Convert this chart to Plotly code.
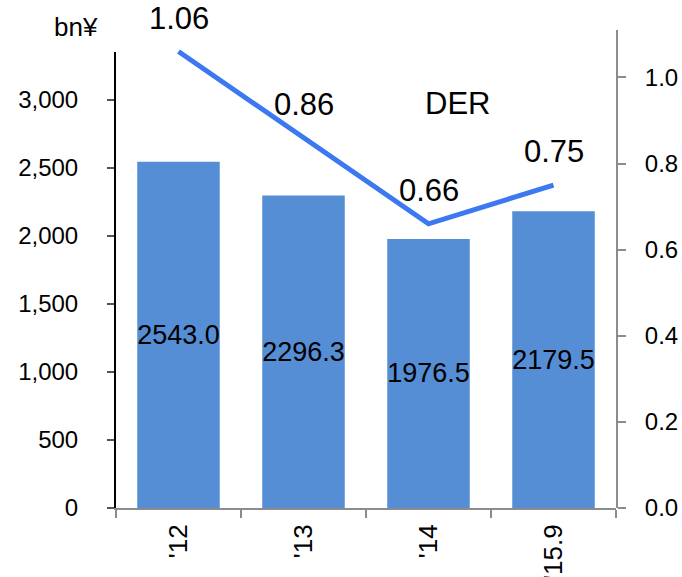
import plotly.graph_objects as go

# Interest-bearing debt (bn yen) and debt-to-equity ratio
periods = ["'12", "'13", "'14", "'15.9"]
debt_bn_yen = [2543.0, 2296.3, 1976.5, 2179.5]
der = [1.06, 0.86, 0.66, 0.75]

left_ticks = [0, 500, 1000, 1500, 2000, 2500, 3000]
left_tick_text = ["0", "500", "1,000", "1,500", "2,000", "2,500", "3,000"]
right_ticks = [0.0, 0.2, 0.4, 0.6, 0.8, 1.0]

FONT = "Liberation Sans, Arial, sans-serif"
BAR_COLOR = "#558ED5"
LINE_COLOR = "#3C78F0"
GRAY = "#8C8C8C"

fig = go.Figure()

fig.add_trace(go.Bar(
    x=periods, y=debt_bn_yen, yaxis="y",
    marker=dict(color=BAR_COLOR, line=dict(width=0)),
    width=0.66,
    text=[f"{v:.1f}" for v in debt_bn_yen],
    textposition="inside", insidetextanchor="middle",
    textangle=0, constraintext="none",
    textfont=dict(family=FONT, size=27, color="black"),
    cliponaxis=False, showlegend=False,
))

fig.add_trace(go.Scatter(
    x=periods, y=der, yaxis="y2",
    mode="lines",
    line=dict(color=LINE_COLOR, width=5),
    cliponaxis=False, showlegend=False,
))

# DER value labels sitting above each point of the line
der_labels = [
    dict(text=f"{v:.2f}", x=p, y=v, xref="x", yref="y2",
         xanchor="center", yanchor="bottom", yshift=14, showarrow=False,
         font=dict(size=31, family=FONT, color="black"))
    for p, v in zip(periods, der)
]

fig.update_layout(
    width=682, height=577,
    margin=dict(l=116, r=66, t=30, b=69),
    paper_bgcolor="white", plot_bgcolor="rgba(0,0,0,0)",
    font=dict(family=FONT, color="black"),
    bargap=0.34,
    xaxis=dict(
        type="category", anchor="y", automargin=False,
        showline=True, linecolor=GRAY, linewidth=2,
        ticks="outside", tickson="boundaries", ticklen=8,
        tickcolor=GRAY, tickwidth=2,
        tickangle=-90, tickfont=dict(size=26, family=FONT),
        ticklabelstandoff=4,
        showgrid=False, zeroline=False,
    ),
    yaxis=dict(
        domain=[0, 456 / 478], anchor="x", automargin=False,
        range=[0, 3350],
        tickvals=left_ticks, ticktext=left_tick_text,
        showline=True, linecolor="black", linewidth=2,
        ticks="outside", ticklen=7, tickcolor="#555555", tickwidth=2,
        tickfont=dict(size=24, family=FONT),
        ticklabelstandoff=24,
        showgrid=False, zeroline=False,
    ),
    yaxis2=dict(
        domain=[0, 1], anchor="x", side="right", automargin=False,
        range=[0, 1.11],
        tickvals=right_ticks, tickformat=".1f",
        showline=True, linecolor=GRAY, linewidth=2,
        ticks="outside", ticklen=8, tickcolor=GRAY, tickwidth=2,
        tickfont=dict(size=24, family=FONT),
        ticklabelstandoff=14,
        showgrid=False, zeroline=False,
    ),
    annotations=der_labels + [
        dict(text="bn¥", xref="paper", yref="paper", x=-0.08, y=1.006,
             xanchor="center", yanchor="middle", showarrow=False,
             font=dict(size=26, family=FONT)),
        dict(text="DER", xref="paper", yref="paper", x=0.682, y=0.847,
             xanchor="center", yanchor="middle", showarrow=False,
             font=dict(size=31, family=FONT)),
    ],
)

fig.write_html("out.html")
